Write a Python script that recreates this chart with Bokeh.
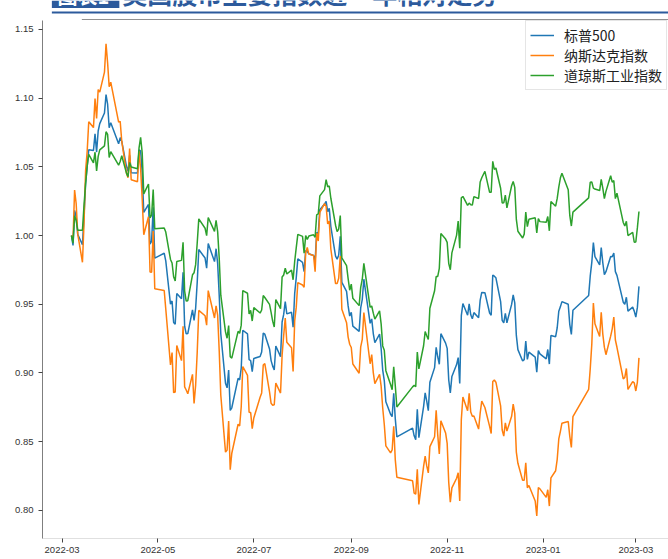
import pandas as pd
from bokeh.plotting import figure
from bokeh.layouts import column
from bokeh.models import Range1d, FixedTicker, Legend, LegendItem, NumeralTickFormatter
from bokeh.core.properties import value
from bokeh.embed import file_html
from bokeh.resources import INLINE

# ---------------- data (relative level, first day = 1.0) ----------------
dates = (
    ["2022-03-%s" % d for d in ["07","08","09","10","11","14","15","16","17","18","21","22","23","24","25","28","29","30","31"]]
    + ["2022-04-%s" % d for d in ["01","06","07","08","11","12","13","14","18","19","20","21","22","25","26","27","28","29"]]
    + ["2022-05-%s" % d for d in ["05","06","09","10","11","12","13","16","17","18","19","20","23","24","25","26","27","31"]]
    + ["2022-06-%s" % d for d in ["01","02","06","07","08","09","10","13","14","15","16","17","21","22","23","24","27","28","29","30"]]
    + ["2022-07-%s" % d for d in ["01","05","06","07","08","11","12","13","14","15","18","19","20","21","22","25","26","27","28","29"]]
    + ["2022-08-%s" % d for d in ["01","02","03","04","05","08","09","10","11","12","15","16","17","18","19","22","23","24","25","26","29","30","31"]]
    + ["2022-09-%s" % d for d in ["01","02","06","07","08","09","13","14","15","16","19","20","21","22","23","26","27","28","29","30"]]
    + ["2022-10-%s" % d for d in ["10","11","12","13","14","17","18","19","20","21","24","25","26","27","28","31"]]
    + ["2022-11-%s" % d for d in ["01","02","03","04","07","08","09","10","11","14","15","16","17","18","21","22","23","25","28","29","30"]]
    + ["2022-12-%s" % d for d in ["01","02","05","06","07","08","09","12","13","14","15","16","19","20","21","22","23","27","28","29","30"]]
    + ["2023-01-%s" % d for d in ["03","04","05","06","09","10","11","12","13","17","18","19","20","30","31"]]
    + ["2023-02-%s" % d for d in ["01","02","03","06","07","08","09","10","13","14","15","16","17","21","22","23","24","27","28"]]
    + ["2023-03-%s" % d for d in ["01","02","03"]]
)

sp500 = [
    1.0000, 0.9928, 1.0183, 1.0139, 1.0008, 0.9933, 1.0146, 1.0373, 1.0501, 1.0624, 1.0619, 1.0739, 1.0607, 1.0760, 1.0814, 1.0891, 1.1025, 1.0955, 1.0784,
    1.0821, 1.0667, 1.0712, 1.0684, 1.0503, 1.0467, 1.0584, 1.0456, 1.0454, 1.0622, 1.0615, 1.0458, 1.0168, 1.0226, 0.9938, 0.9959, 1.0206, 0.9835,
    0.9871, 0.9815, 0.9500, 0.9524, 0.9367, 0.9355, 0.9578, 0.9540, 0.9733, 0.9340, 0.9285, 0.9287, 0.9459, 0.9382, 0.9471, 0.9659, 0.9898, 0.9836,
    0.9762, 0.9942, 0.9810, 0.9904, 0.9797, 0.9564, 0.9285, 0.8925, 0.8892, 0.9021, 0.8728, 0.8747, 0.8961, 0.8950, 0.9035, 0.9311, 0.9284, 0.9097, 0.9090, 0.9010,
    0.9106, 0.9120, 0.9153, 0.9290, 0.9282, 0.9175, 0.9090, 0.9050, 0.9022, 0.9196, 0.9119, 0.9371, 0.9426, 0.9519, 0.9430, 0.9442, 0.9333, 0.9578, 0.9694, 0.9831,
    0.9804, 0.9738, 0.9891, 0.9883, 0.9867, 0.9855, 0.9813, 1.0022, 1.0015, 1.0188, 1.0229, 1.0248, 1.0174, 1.0197, 1.0065, 0.9850, 0.9828, 0.9856, 0.9995, 0.9659, 0.9594, 0.9488, 0.9414,
    0.9442, 0.9341, 0.9303, 0.9473, 0.9536, 0.9682, 0.9361, 0.9393, 0.9287, 0.9220, 0.9283, 0.9178, 0.9021, 0.8945, 0.8791, 0.8700, 0.8682, 0.8853, 0.8666, 0.8535,
    0.8599, 0.8543, 0.8515, 0.8736, 0.8529, 0.8755, 0.8855, 0.8796, 0.8726, 0.8933, 0.9039, 0.9186, 0.9118, 0.9063, 0.9286, 0.9217,
    0.9179, 0.8949, 0.8855, 0.8975, 0.9061, 0.9112, 0.8923, 0.9417, 0.9505, 0.9420, 0.9502, 0.9423, 0.9394, 0.9439, 0.9402, 0.9530, 0.9586, 0.9584, 0.9436, 0.9420, 0.9712,
    0.9704, 0.9692, 0.9519, 0.9382, 0.9364, 0.9434, 0.9365, 0.9499, 0.9568, 0.9510, 0.9273, 0.9170, 0.9087, 0.9097, 0.9232, 0.9099, 0.9152, 0.9115, 0.9005, 0.9163, 0.9139,
    0.9103, 0.9171, 0.9065, 0.9272, 0.9264, 0.9329, 0.9449, 0.9481, 0.9519, 0.9500, 0.9352, 0.9281, 0.9456, 0.9564, 0.9704,
    0.9805, 0.9949, 0.9846, 0.9786, 0.9912, 0.9802, 0.9715, 0.9737, 0.9848, 0.9845, 0.9873, 0.9737, 0.9710, 0.9515, 0.9500, 0.9551, 0.9450, 0.9479, 0.9450,
    0.9406, 0.9477, 0.9630,
]

nasdaq = [
    1.0000, 0.9972, 1.0331, 1.0233, 1.0010, 0.9805, 1.0092, 1.0472, 1.0611, 1.0828, 1.0785, 1.0996, 1.0851, 1.1061, 1.1043, 1.1188, 1.1394, 1.1256, 1.1083,
    1.1115, 1.0824, 1.0831, 1.0686, 1.0453, 1.0421, 1.0633, 1.0405, 1.0391, 1.0615, 1.0485, 1.0268, 1.0006, 1.0136, 0.9735, 0.9733, 1.0032, 0.9613,
    0.9600, 0.9465, 0.9059, 0.9148, 0.8857, 0.8862, 0.9200, 0.9090, 0.9340, 0.8899, 0.8876, 0.8849, 0.8990, 0.8779, 0.8912, 0.9150, 0.9455, 0.9416,
    0.9348, 0.9599, 0.9400, 0.9489, 0.9420, 0.9161, 0.8838, 0.8424, 0.8439, 0.8650, 0.8297, 0.8416, 0.8627, 0.8614, 0.8754, 0.9047, 0.8982, 0.8714, 0.8712, 0.8595,
    0.8673, 0.8824, 0.8855, 0.9057, 0.9068, 0.8863, 0.8779, 0.8766, 0.8769, 0.8926, 0.8854, 0.9129, 0.9273, 0.9399, 0.9223, 0.9183, 0.9011, 0.9378, 0.9479, 0.9657,
    0.9640, 0.9624, 0.9873, 0.9914, 0.9865, 0.9855, 0.9737, 1.0019, 0.9960, 1.0169, 1.0232, 1.0212, 1.0084, 1.0105, 0.9902, 0.9650, 0.9650, 0.9689, 0.9851, 0.9463, 0.9366, 0.9261, 0.9209,
    0.9185, 0.9065, 0.8998, 0.9190, 0.9245, 0.9440, 0.9067, 0.9134, 0.9003, 0.8922, 0.8990, 0.8904, 0.8745, 0.8625, 0.8470, 0.8419, 0.8440, 0.8613, 0.8368, 0.8242,
    0.8216, 0.8126, 0.8119, 0.8300, 0.8044, 0.8320, 0.8396, 0.8324, 0.8273, 0.8464, 0.8536, 0.8728, 0.8550, 0.8411, 0.8653, 0.8564,
    0.8488, 0.8203, 0.8061, 0.8164, 0.8234, 0.8274, 0.8069, 0.8662, 0.8825, 0.8726, 0.8852, 0.8716, 0.8686, 0.8687, 0.8592, 0.8709, 0.8795, 0.8749, 0.8612, 0.8560, 0.8938,
    0.8949, 0.8933, 0.8760, 0.8585, 0.8541, 0.8637, 0.8577, 0.8685, 0.8773, 0.8706, 0.8425, 0.8343, 0.8219, 0.8220, 0.8347, 0.8165, 0.8182, 0.8069, 0.7960, 0.8166, 0.8157,
    0.8095, 0.8151, 0.8032, 0.8237, 0.8289, 0.8372, 0.8520, 0.8574, 0.8635, 0.8647, 0.8539, 0.8458, 0.8682, 0.8880, 0.9029,
    0.9209, 0.9509, 0.9358, 0.9265, 0.9441, 0.9283, 0.9188, 0.9133, 0.9268, 0.9321, 0.9407, 0.9240, 0.9187, 0.8957, 0.8968, 0.9033, 0.8881, 0.8937, 0.8928,
    0.8869, 0.8934, 0.9110,
]

dow = [
    1.0000, 0.9944, 1.0143, 1.0109, 1.0039, 1.0039, 1.0222, 1.0380, 1.0507, 1.0590, 1.0529, 1.0606, 1.0470, 1.0576, 1.0623, 1.0652, 1.0755, 1.0735, 1.0567,
    1.0610, 1.0512, 1.0538, 1.0580, 1.0454, 1.0428, 1.0532, 1.0498, 1.0486, 1.0638, 1.0714, 1.0602, 1.0303, 1.0375, 1.0129, 1.0148, 1.0335, 1.0049,
    1.0055, 1.0025, 0.9826, 0.9800, 0.9700, 0.9669, 0.9811, 0.9819, 0.9950, 0.9596, 0.9523, 0.9526, 0.9714, 0.9729, 0.9788, 0.9945, 1.0121, 1.0053,
    0.9999, 1.0131, 1.0030, 1.0111, 1.0028, 0.9834, 0.9566, 0.9299, 0.9253, 0.9345, 0.9119, 0.9108, 0.9303, 0.9289, 0.9348, 0.9599, 0.9580, 0.9430, 0.9455, 0.9378,
    0.9476, 0.9436, 0.9458, 0.9563, 0.9549, 0.9499, 0.9441, 0.9377, 0.9334, 0.9534, 0.9468, 0.9698, 0.9713, 0.9762, 0.9720, 0.9748, 0.9678, 0.9811, 0.9912, 1.0008,
    0.9994, 0.9872, 0.9999, 0.9972, 0.9996, 1.0005, 0.9987, 1.0150, 1.0158, 1.0288, 1.0334, 1.0407, 1.0354, 1.0360, 1.0271, 1.0075, 1.0028, 1.0046, 1.0145, 0.9837, 0.9781, 0.9687, 0.9602,
    0.9646, 0.9543, 0.9490, 0.9623, 0.9682, 0.9797, 0.9478, 0.9487, 0.9435, 0.9392, 0.9452, 0.9357, 0.9197, 0.9165, 0.9017, 0.8916, 0.8878, 0.9045, 0.8906, 0.8753,
    0.8899, 0.8910, 0.8901, 0.9153, 0.9030, 0.9198, 0.9301, 0.9271, 0.9243, 0.9471, 0.9598, 0.9701, 0.9702, 0.9761, 1.0014, 0.9974,
    0.9950, 0.9796, 0.9751, 0.9874, 1.0003, 1.0105, 0.9908, 1.0274, 1.0284, 1.0219, 1.0236, 1.0224, 1.0222, 1.0283, 1.0269, 1.0390, 1.0420, 1.0466, 1.0314, 1.0315, 1.0540,
    1.0481, 1.0491, 1.0344, 1.0237, 1.0238, 1.0294, 1.0201, 1.0362, 1.0393, 1.0350, 1.0117, 1.0031, 0.9982, 1.0010, 1.0170, 1.0064, 1.0118, 1.0129, 1.0018, 1.0123, 1.0101,
    1.0097, 1.0138, 1.0034, 1.0248, 1.0213, 1.0270, 1.0352, 1.0418, 1.0453, 1.0333, 1.0146, 1.0069, 1.0170, 1.0274, 1.0387,
    1.0389, 1.0345, 1.0338, 1.0327, 1.0408, 1.0345, 1.0269, 1.0321, 1.0435, 1.0388, 1.0399, 1.0268, 1.0308, 1.0095, 1.0069, 1.0103, 1.0000, 1.0022, 0.9951,
    0.9953, 1.0057, 1.0175,
]

series_names = ["标普500", "纳斯达克指数", "道琼斯工业指数"]
series_colors = ["#1f77b4", "#ff7f0e", "#2ca02c"]

x_tick_dates = ["2022-03-01", "2022-05-01", "2022-07-01", "2022-09-01", "2022-11-01", "2023-01-01", "2023-03-01"]
x_tick_labels = ["2022-03", "2022-05", "2022-07", "2022-09", "2022-11", "2023-01", "2023-03"]
y_ticks = [0.80, 0.85, 0.90, 0.95, 1.00, 1.05, 1.10, 1.15]

header_tag = "图表1"
header_title = "美国股市主要指数近一年相对走势"

BLUE = "#2c5a9c"

# ---------------- header strip (top 20 px) ----------------
hdr = figure(width=668, height=20, x_range=Range1d(0, 668), y_range=Range1d(20, 0),
             toolbar_location=None, output_backend="svg", min_border=0,
             x_axis_location=None, y_axis_location=None, outline_line_color=None)
hdr.grid.visible = False
hdr.quad(left=[10], right=[82], top=[0], bottom=[7.5], color=BLUE, line_color=None)
hdr.text(x=[16], y=[9], text=[header_tag], text_color="white",
         text_font=value("Noto Sans CJK SC"), text_font_size="20px", text_font_style="bold",
         text_baseline="bottom")
hdr.text(x=[85], y=[10], text=[header_title], text_color=BLUE,
         text_font=value("Noto Sans CJK SC"), text_font_size="25px", text_font_style="bold",
         text_baseline="bottom")
hdr.quad(left=[10], right=[668], top=[11], bottom=[13], color=BLUE, line_color=None)
hdr.segment(x0=[42], y0=[19.5], x1=[668], y1=[19.5], line_color="#222222", line_width=1)

# ---------------- main chart ----------------
x = pd.to_datetime(dates)

p = figure(width=668, height=539, x_axis_type="datetime",
           x_range=Range1d(pd.Timestamp("2022-02-16 14:00"), pd.Timestamp("2023-03-21 19:00")),
           y_range=Range1d(0.7796, 1.1564),
           toolbar_location=None, output_backend="svg",
           min_border_left=42, min_border_right=0, min_border_top=0, min_border_bottom=21,
           outline_line_color=None)
p.xgrid.visible = False
p.ygrid.visible = False

renderers = []
for vals, c in zip([sp500, nasdaq, dow], series_colors):
    renderers.append(p.line(x, vals, line_color=c, line_width=1.5))

tick_ms = [pd.Timestamp(d).value // 10**6 for d in x_tick_dates]
p.xaxis.ticker = FixedTicker(ticks=tick_ms)
p.xaxis.major_label_overrides = {t: lab for t, lab in zip(tick_ms, x_tick_labels)}
p.yaxis.ticker = FixedTicker(ticks=y_ticks)
p.yaxis.formatter = NumeralTickFormatter(format="0.00")

for ax in (p.xaxis[0], p.yaxis[0]):
    ax.major_tick_out = 4
    ax.major_tick_in = 0
    ax.minor_tick_line_color = None
    ax.major_tick_line_color = "#444444"
    ax.major_label_text_font = "Liberation Sans"
    ax.major_label_text_font_size = "9.5px"
    ax.major_label_text_color = "#333333"
p.yaxis.major_label_standoff = 5
p.xaxis.major_label_standoff = 4
p.yaxis.axis_line_color = "#7f7f7f"
p.xaxis.axis_line_color = "#e0e0e0"

legend = Legend(
    items=[LegendItem(label=n, renderers=[r]) for n, r in zip(series_names, renderers)],
    location=(483, 448),
    label_text_font="Noto Sans CJK SC", label_text_font_size="14px", label_text_color="#222222",
    glyph_width=24, glyph_height=14, label_height=14, label_standoff=10,
    padding=4, spacing=-3,
    border_line_color="#cccccc", background_fill_alpha=0.8,
)
p.add_layout(legend)

layout = column(hdr, p, spacing=0)
open("out.html", "w").write(file_html(layout, INLINE, title="美国股市主要指数相对走势"))
